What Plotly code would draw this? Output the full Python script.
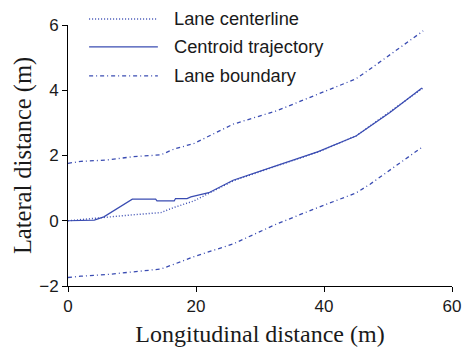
import plotly.graph_objects as go

# Lane geometry (m)
x_lane = [0, 2, 6, 10, 14.5, 16.6, 19.7, 25.8, 32.6, 39.1, 45, 47.2, 50.3, 55.5]
lane_center = [0, 0.04, 0.12, 0.18, 0.25, 0.41, 0.61, 1.22, 1.68, 2.11, 2.6, 2.91, 3.34, 4.07]
lane_upper = [1.76, 1.82, 1.86, 1.96, 2.02, 2.2, 2.37, 2.96, 3.37, 3.88, 4.35, 4.65, 5.08, 5.82]
lane_lower = [-1.74, -1.7, -1.65, -1.58, -1.48, -1.33, -1.10, -0.71, -0.10, 0.41, 0.85, 1.12, 1.55, 2.28]

# Centroid trajectory (m)
x_traj = [0, 4.1, 5.6, 7.2, 8.75, 10.05, 13.7, 13.9, 16.6, 16.8, 18.6, 19.2, 22, 25.8, 32.6, 39.1, 45, 47.2, 50.3, 55.3]
y_traj = [0, 0.02, 0.12, 0.31, 0.49, 0.66, 0.66, 0.61, 0.61, 0.68, 0.68, 0.73, 0.86, 1.24, 1.69, 2.12, 2.6, 2.9, 3.32, 4.07]

legend_labels = ["Lane centerline", "Centroid trajectory", "Lane boundary"]

COLOR = "#3a4cb2"
DOT = "1px,2px"
DASHDOT = "4px,3px,1px,3px"

fig = go.Figure()
fig.add_trace(go.Scatter(x=x_lane, y=lane_center, mode="lines",
                         line=dict(color=COLOR, width=1.4, dash=DOT), showlegend=False))
fig.add_trace(go.Scatter(x=x_traj, y=y_traj, mode="lines",
                         line=dict(color=COLOR, width=1.2), showlegend=False))
fig.add_trace(go.Scatter(x=x_lane, y=lane_upper, mode="lines",
                         line=dict(color=COLOR, width=1.3, dash=DASHDOT), showlegend=False))
fig.add_trace(go.Scatter(x=x_lane, y=lane_lower, mode="lines",
                         line=dict(color=COLOR, width=1.3, dash=DASHDOT), showlegend=False))

# Manual legend (long line samples as in the reference)
leg_y = [1.023, 0.916, 0.805]
leg_dash = [DOT, "solid", DASHDOT]
for label, yy, d in zip(legend_labels, leg_y, leg_dash):
    fig.add_shape(type="line", xref="paper", yref="paper", x0=0.055, x1=0.234, y0=yy, y1=yy,
                  line=dict(color=COLOR, width=1.3, dash=d))
    fig.add_annotation(xref="paper", yref="paper", x=0.27, y=yy, text=label, showarrow=False,
                       xanchor="left", yanchor="middle",
                       font=dict(family="Liberation Sans, Arial", size=18.3, color="#1a1a1a"))

axis_common = dict(showline=True, linecolor="black", linewidth=1, ticks="outside", ticklen=5,
                   tickcolor="black", showgrid=False, zeroline=False, mirror=False, automargin=False,
                   tickfont=dict(family="Liberation Sans, Arial", size=17, color="#1a1a1a"))

fig.update_layout(
    width=467, height=348,
    margin=dict(l=68, r=15, t=25, b=62),
    plot_bgcolor="white", paper_bgcolor="white",
    xaxis=dict(range=[0, 60], tick0=0, dtick=20,
               title=dict(text="Longitudinal distance (m)", standoff=9,
                          font=dict(family="Liberation Serif, Times New Roman", size=24, color="#1a1a1a")),
               **axis_common),
    yaxis=dict(range=[-2, 6], tick0=-2, dtick=2,
               title=dict(text="Lateral distance (m)", standoff=0,
                          font=dict(family="Liberation Serif, Times New Roman", size=24.5, color="#1a1a1a")),
               **axis_common),
)

fig.write_html("out.html")
